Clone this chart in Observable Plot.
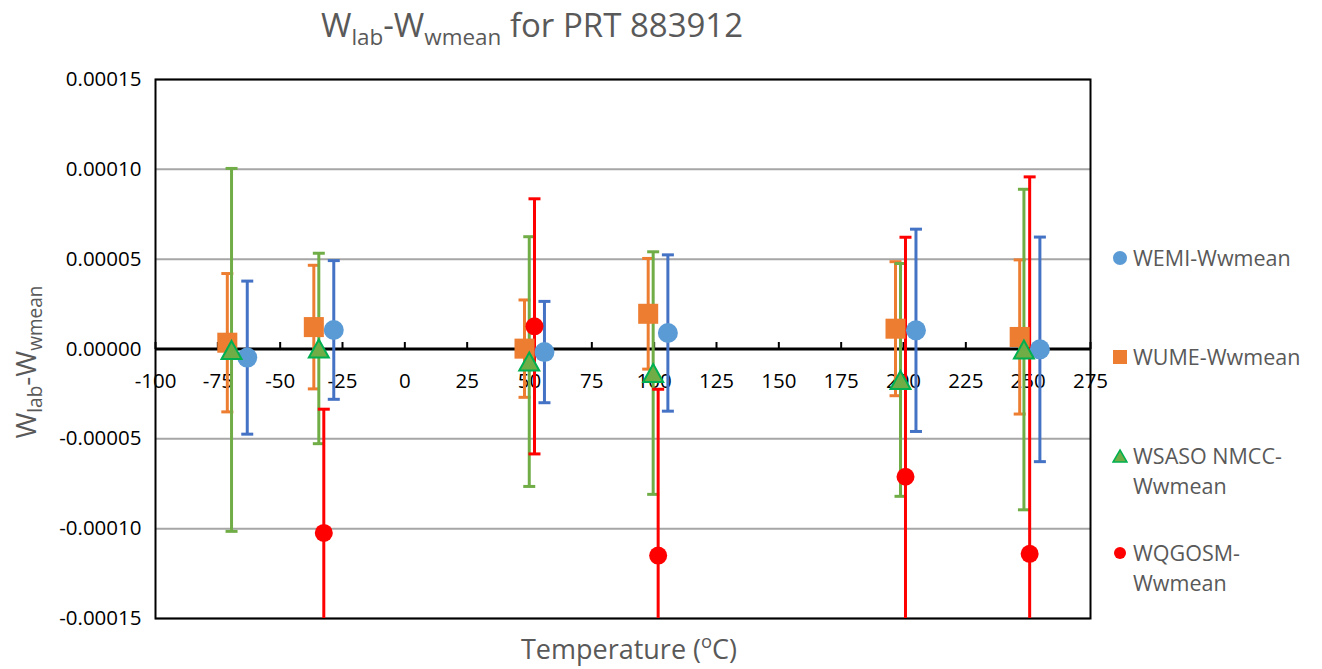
<!DOCTYPE html>
<html>
<head>
<meta charset="utf-8">
<script src="https://cdn.jsdelivr.net/npm/d3@7"></script>
<script src="https://cdn.jsdelivr.net/npm/@observablehq/plot@0.6"></script>
<style>
  body { margin: 0; background: #fff; font-family: "Open Sans", sans-serif; }
  #wrap { position: relative; width: 1322px; height: 669px; overflow: hidden; }
  #chart { position: absolute; left: 0; top: 0; }
  .ov { position: absolute; color: #595959; white-space: nowrap; }
  .ov sub { font-size: 0.68em; vertical-align: -0.35em; }
  .ov sup { font-size: 0.68em; vertical-align: 0.55em; line-height: 0; }
  .leg { position: absolute; font-size: 21.5px; color: #595959; line-height: 30px; }
  .leg svg { position: absolute; left: -21px; top: 7px; }
</style>
</head>
<body>
<div id="wrap">
  <div id="chart"></div>
  <div class="ov" id="title" style="font-size:33px; line-height:50px; left:0; width:1064px; text-align:center; top:0px;">W<sub>lab</sub>-W<sub>wmean</sub> for PRT 883912</div>
  <div class="ov" id="ylab" style="font-size:28px; left:27px; top:362px; transform: translate(-50%,-50%) rotate(-90deg);">W<sub>lab</sub>-W<sub>wmean</sub></div>
  <div class="ov" id="xlab" style="font-size:27px; left:629px; top:648px; transform: translate(-50%,-50%);">Temperature (<sup>o</sup>C)</div>
  <div id="legend"></div>
</div>
<script>
// ---- data ----
const seriesNames = ["WEMI-Wwmean", "WUME-Wwmean", "WSASO NMCC-Wwmean", "WQGOSM-Wwmean"];

const wemiTemp = [-63.2, -28.5, 56.0, 105.5, 205.0, 254.7];
const wemiVal  = [-4.8e-6, 10.6e-6, -1.7e-6, 8.9e-6, 10.4e-6, -0.2e-6];
const wemiErr  = [42.6e-6, 38.6e-6, 28.2e-6, 43.5e-6, 56.3e-6, 62.5e-6];

const wumeTemp = [-71.2, -36.5, 48.0, 97.6, 196.8, 246.6];
const wumeVal  = [3.5e-6, 12.2e-6, 0.2e-6, 19.6e-6, 11.3e-6, 6.7e-6];
const wumeErr  = [38.5e-6, 34.4e-6, 27.1e-6, 30.8e-6, 37.3e-6, 42.9e-6];

const wsasoTemp = [-69.5, -34.5, 49.9, 99.6, 198.8, 248.3];
const wsasoVal  = [-0.5e-6, 0.3e-6, -7.0e-6, -13.4e-6, -17.2e-6, -0.3e-6];
const wsasoErr  = [101e-6, 53e-6, 69.5e-6, 67.5e-6, 64.8e-6, 89.2e-6];

const wqgosmTemp = [-32.5, 52.0, 101.6, 200.8, 250.6];
const wqgosmVal  = [-102.4e-6, 12.6e-6, -115e-6, -71.1e-6, -114e-6];
const wqgosmErr  = [68.9e-6, 71e-6, 92.6e-6, 133.3e-6, 209.8e-6];

const xTicks = [-100, -75, -50, -25, 0, 25, 50, 75, 100, 125, 150, 175, 200, 225, 250, 275];
const yTicks = [-0.00015, -0.0001, -0.00005, 0, 0.00005, 0.0001, 0.00015];

// ---- styles ----
const barColors = ["#4472C4", "#ED7D31", "#70AD47", "#FF0000"];
const markerFill = ["#5B9BD5", "#ED7D31", "#70AD47", "#FF0000"];

const toRows = (t, v, e) => t.map((d, i) => ({temp: d, val: v[i], err: e[i]}));
const data = [
  toRows(wemiTemp, wemiVal, wemiErr),
  toRows(wumeTemp, wumeVal, wumeErr),
  toRows(wsasoTemp, wsasoVal, wsasoErr),
  toRows(wqgosmTemp, wqgosmVal, wqgosmErr)
];

const capSymbol = { draw(ctx, size) { const r = Math.sqrt(size / Math.PI); ctx.moveTo(-r, 0); ctx.lineTo(r, 0); } };
const tickUp = { draw(ctx, size) { const r = Math.sqrt(size / Math.PI); ctx.moveTo(0, 0); ctx.lineTo(0, -r); } };
const triSymbol = { draw(ctx, size) { const r = Math.sqrt(size / Math.PI); ctx.moveTo(0, -0.9 * r); ctx.lineTo(r, 0.9 * r); ctx.lineTo(-r, 0.9 * r); ctx.closePath(); } };

const errMarks = [];
data.forEach((rows, i) => {
  errMarks.push(Plot.ruleX(rows, {x: "temp", y1: d => d.val - d.err, y2: d => d.val + d.err, stroke: barColors[i], strokeWidth: 3, clip: true}));
  errMarks.push(Plot.dot(rows, {x: "temp", y: d => d.val + d.err, symbol: capSymbol, r: 6, stroke: barColors[i], strokeWidth: 3, clip: true}));
  errMarks.push(Plot.dot(rows, {x: "temp", y: d => d.val - d.err, symbol: capSymbol, r: 6, stroke: barColors[i], strokeWidth: 3, clip: true}));
});

const chart = Plot.plot({
  width: 1322, height: 669,
  marginLeft: 155, marginRight: 232, marginTop: 79, marginBottom: 51,
  x: {domain: [-100, 275], axis: null},
  y: {domain: [-0.00015, 0.00015], axis: null},
  style: {fontFamily: "'Open Sans', sans-serif", background: "transparent"},
  marks: [
    Plot.gridY(yTicks.filter(d => d !== 0), {stroke: "#A6A6A6", strokeOpacity: 1, strokeWidth: 2}),
    Plot.frame({stroke: "#000", strokeWidth: 2}),
    Plot.ruleY([0], {stroke: "#000", strokeWidth: 3}),
    Plot.dot(xTicks, {x: d => d, y: () => 0, symbol: tickUp, r: 7, stroke: "#000", strokeWidth: 2}),
    Plot.text(xTicks, {x: d => d, y: () => 0, text: d => String(d), dy: 32, fontSize: 20.5, fill: "#000"}),
    Plot.text(yTicks, {y: d => d, frameAnchor: "left", dx: -14, textAnchor: "end", text: d => d.toFixed(5), fontSize: 20.5, fill: "#000"}),
    ...errMarks,
    Plot.dot(data[0], {x: "temp", y: "val", symbol: "circle", r: 10, fill: markerFill[0]}),
    Plot.dot(data[1], {x: "temp", y: "val", symbol: "square", r: 11.3, fill: markerFill[1]}),
    Plot.dot(data[2], {x: "temp", y: "val", symbol: triSymbol, r: 10, fill: markerFill[2], stroke: "#00B050", strokeWidth: 2}),
    Plot.dot(data[3], {x: "temp", y: "val", symbol: "circle", r: 9, fill: markerFill[3]})
  ]
});
document.getElementById("chart").appendChild(chart);

// ---- legend ----
const legendPos = [{top: 243, lines: ["WEMI-Wwmean"]},
                   {top: 342, lines: ["WUME-Wwmean"]},
                   {top: 441, lines: ["WSASO NMCC-", "Wwmean"]},
                   {top: 538, lines: ["WQGOSM-", "Wwmean"]}];
const markerSvg = [
  `<svg width="16" height="16"><circle cx="8" cy="8" r="7" fill="${markerFill[0]}"/></svg>`,
  `<svg width="16" height="16"><rect x="1" y="1" width="14" height="14" fill="${markerFill[1]}"/></svg>`,
  `<svg width="16" height="16"><path d="M8,2 L15,14 L1,14 Z" fill="${markerFill[2]}" stroke="#00B050" stroke-width="1.5"/></svg>`,
  `<svg width="16" height="16"><circle cx="8" cy="8" r="6" fill="${markerFill[3]}"/></svg>`
];
const leg = document.getElementById("legend");
legendPos.forEach((p, i) => {
  const el = document.createElement("div");
  el.className = "leg";
  el.style.left = "1133px";
  el.style.top = p.top + "px";
  el.innerHTML = markerSvg[i] + p.lines.map(s => `<div>${s}</div>`).join("");
  leg.appendChild(el);
});
</script>
</body>
</html>
